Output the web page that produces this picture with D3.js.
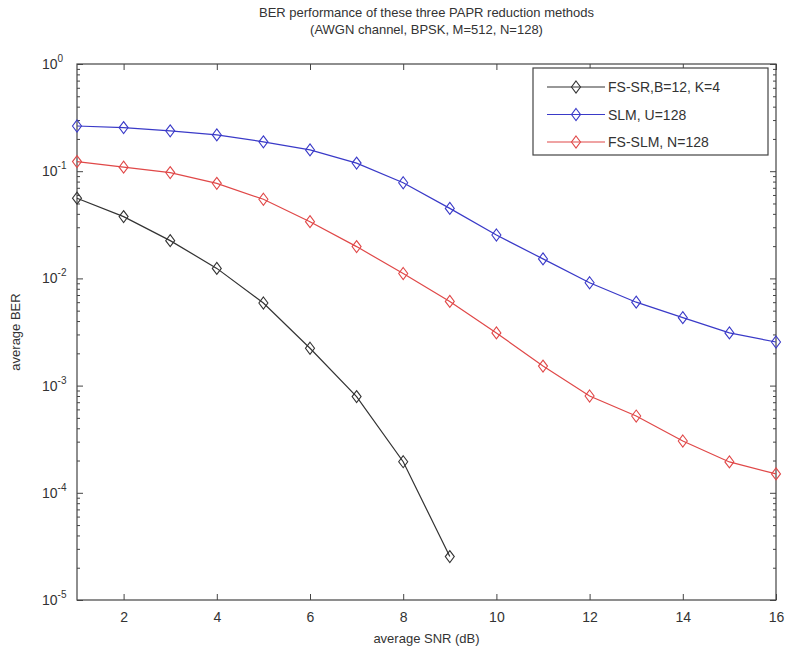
<!DOCTYPE html>
<html>
<head>
<meta charset="utf-8">
<script src="https://cdn.jsdelivr.net/npm/d3@7"></script>
<style>
  html, body { margin: 0; padding: 0; background: #fff; }
  svg { display: block; font-family: "Liberation Sans", Arial, sans-serif; }
</style>
</head>
<body>
<svg id="chart" width="790" height="655"></svg>
<script>
// SNR points (dB)
const snr = [1, 2, 3, 4, 5, 6, 7, 8, 9, 10, 11, 12, 13, 14, 15, 16];
const snrFsSr = [1, 2, 3, 4, 5, 6, 7, 8, 9];

// average BER per method
const berFsSr = [0.056, 0.0377, 0.0225, 0.0124, 0.0059, 0.00223, 0.00079, 0.000195, 0.0000254];
const berSlm = [0.264, 0.255, 0.238, 0.218, 0.188, 0.158, 0.119, 0.078, 0.045, 0.0254, 0.0152, 0.0091, 0.006, 0.0043, 0.0031, 0.00255];
const berFsSlm = [0.123, 0.109, 0.097, 0.077, 0.0547, 0.0338, 0.0198, 0.0111, 0.0061, 0.0031, 0.00152, 0.0008, 0.00052, 0.000304, 0.000194, 0.00015];

const seriesNames = ["FS-SR,B=12, K=4", "SLM, U=128", "FS-SLM, N=128"];
const seriesColors = ["#333333", "#3a3ac8", "#e04848"];

const xTicks = [2, 4, 6, 8, 10, 12, 14, 16];
const yExponents = [0, -1, -2, -3, -4, -5];

const titleLines = ["BER performance of these three PAPR reduction methods",
                    "(AWGN channel, BPSK, M=512, N=128)"];
const xLabel = "average SNR (dB)";
const yLabel = "average BER";

const svg = d3.select("#chart");
const L = 77, R = 776, T = 64, B = 600;

const x = d3.scaleLinear().domain([1, 16]).range([L, R]);
const y = d3.scaleLog().domain([1e-5, 1]).range([B, T]);

const axisColor = "#444";

// minor ticks on the log axis
const minor = [];
for (let e = -5; e < 0; e++) for (let m = 2; m <= 9; m++) minor.push(m * Math.pow(10, e));

const g = svg.append("g");

// left & right axes with inward ticks
const yLeft = d3.axisLeft(y).tickValues(yExponents.map(e => Math.pow(10, e))).tickSizeInner(-6).tickSizeOuter(0).tickFormat("");
const yRight = d3.axisRight(y).tickValues(yExponents.map(e => Math.pow(10, e))).tickSizeInner(-6).tickSizeOuter(0).tickFormat("");
const yLeftMinor = d3.axisLeft(y).tickValues(minor).tickSizeInner(-3).tickSizeOuter(0).tickFormat("");
const yRightMinor = d3.axisRight(y).tickValues(minor).tickSizeInner(-3).tickSizeOuter(0).tickFormat("");
const xBottom = d3.axisBottom(x).tickValues(xTicks).tickSizeInner(-6).tickSizeOuter(0).tickPadding(12);
const xTop = d3.axisTop(x).tickValues(xTicks).tickSizeInner(-6).tickSizeOuter(0).tickFormat("");

g.append("g").attr("transform", `translate(${L},0)`).call(yLeft);
g.append("g").attr("transform", `translate(${L},0)`).call(yLeftMinor);
g.append("g").attr("transform", `translate(${R},0)`).call(yRight);
g.append("g").attr("transform", `translate(${R},0)`).call(yRightMinor);
g.append("g").attr("transform", `translate(0,${B})`).call(xBottom);
g.append("g").attr("transform", `translate(0,${T})`).call(xTop);

g.selectAll(".domain").remove();
g.selectAll(".tick line").attr("stroke", axisColor).attr("stroke-width", 1);
g.selectAll(".tick text").attr("fill", "#333").attr("font-size", 14)
  .attr("font-family", "'Liberation Sans', Arial, sans-serif");

// frame
svg.append("rect").attr("x", L).attr("y", T).attr("width", R - L).attr("height", B - T)
  .attr("fill", "none").attr("stroke", axisColor).attr("stroke-width", 1.2);

// y tick labels as 10^e
const yl = svg.append("g").attr("fill", "#333").attr("font-size", 14);
yExponents.forEach(e => {
  const t = yl.append("text").attr("x", 42).attr("y", y(Math.pow(10, e)) + 5);
  t.append("tspan").text("10");
  t.append("tspan").attr("font-size", 10).attr("dy", -7).text(e === 0 ? "0" : "-" + Math.abs(e));
});

// title
svg.append("g").selectAll("text").data(titleLines).join("text")
  .attr("x", (L + R) / 2).attr("y", (d, i) => 17 + i * 17)
  .attr("text-anchor", "middle").attr("font-size", 13).attr("fill", "#333").text(d => d);

// axis labels
svg.append("text").attr("x", (L + R) / 2).attr("y", 643).attr("text-anchor", "middle")
  .attr("font-size", 13).attr("fill", "#333").text(xLabel);
svg.append("text").attr("transform", `translate(20,${(T + B) / 2}) rotate(-90)`)
  .attr("text-anchor", "middle").attr("font-size", 13).attr("fill", "#333").text(yLabel);

// series
const series = [
  { xs: snrFsSr, ys: berFsSr },
  { xs: snr, ys: berSlm },
  { xs: snr, ys: berFsSlm }
];

const line = d3.line().x(d => x(d[0])).y(d => y(d[1]));
const diamond = (cx, cy) => `M${cx},${cy - 6}L${cx + 4.5},${cy}L${cx},${cy + 6}L${cx - 4.5},${cy}Z`;

const plot = svg.append("g");
series.forEach((s, i) => {
  const pts = s.xs.map((v, j) => [v, s.ys[j]]);
  plot.append("path").datum(pts).attr("d", line).attr("fill", "none")
    .attr("stroke", seriesColors[i]).attr("stroke-width", 1.2);
  plot.append("g").selectAll("path").data(pts).join("path")
    .attr("d", d => diamond(x(d[0]), y(d[1])))
    .attr("fill", "none").attr("stroke", seriesColors[i]).attr("stroke-width", 1.1);
});

// legend
const lg = svg.append("g");
lg.append("rect").attr("x", 533).attr("y", 68).attr("width", 235).attr("height", 87)
  .attr("fill", "#fff").attr("stroke", axisColor).attr("stroke-width", 1.2);
seriesNames.forEach((name, i) => {
  const ly = 87 + i * 27.5;
  lg.append("line").attr("x1", 547).attr("x2", 605).attr("y1", ly).attr("y2", ly)
    .attr("stroke", seriesColors[i]).attr("stroke-width", 1.2);
  lg.append("path").attr("d", diamond(576, ly)).attr("fill", "none")
    .attr("stroke", seriesColors[i]).attr("stroke-width", 1.1);
  lg.append("text").attr("x", 608).attr("y", ly + 5).attr("font-size", 14)
    .attr("fill", "#333").text(name);
});
</script>
</body>
</html>
